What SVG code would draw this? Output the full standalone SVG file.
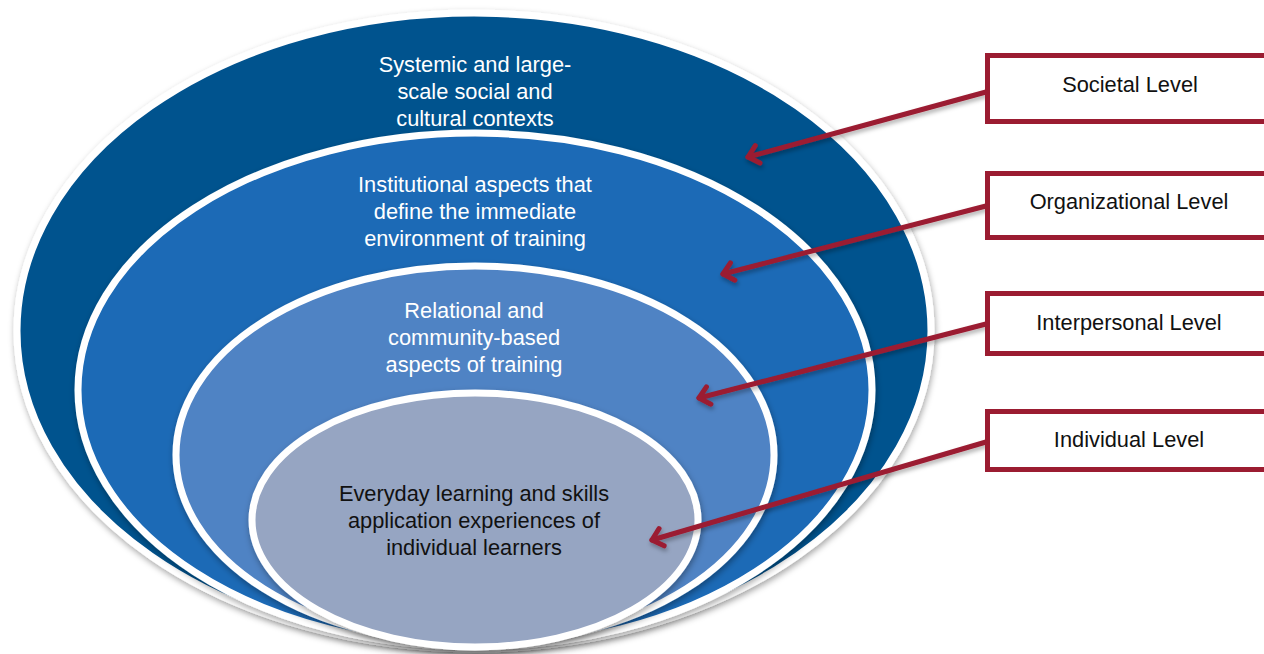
<svg xmlns="http://www.w3.org/2000/svg" width="1264" height="654" viewBox="0 0 1264 654">
  <defs>
    <filter id="shadow" x="-10%" y="-10%" width="120%" height="125%">
      <feDropShadow dx="1" dy="3" stdDeviation="3" flood-color="#000" flood-opacity="0.35"/>
    </filter>
    <filter id="arrowShadow" x="-10%" y="-30%" width="120%" height="160%">
      <feDropShadow dx="1" dy="3" stdDeviation="2" flood-color="#000" flood-opacity="0.3"/>
    </filter>
    <marker id="chevron" viewBox="-14 -12 18 24" markerWidth="18" markerHeight="24" refX="0" refY="0" orient="auto" markerUnits="userSpaceOnUse">
      <path d="M-10,-9 L0,0 L-10,9" fill="none" stroke="#9B1C31" stroke-width="5" stroke-linecap="round" stroke-linejoin="round"/>
    </marker>
    <style>
      .ring { stroke: #FFFFFF; stroke-width: 7; filter: url(#shadow); }
      .label { font-family: "Liberation Sans", Arial, sans-serif; font-size: 21.8px; text-anchor: middle; }
      .light { fill: #FFFFFF; }
      .dark { fill: #111111; }
      .box { fill: #FFFFFF; stroke: #9B1C31; stroke-width: 5; }
      .link { fill: none; stroke: #9B1C31; stroke-width: 5; stroke-linecap: round; marker-end: url(#chevron); }
    </style>
  </defs>

  <!-- nested level ellipses -->
  <g id="societal-ring">
    <ellipse class="ring" cx="474" cy="331" rx="457" ry="318" fill="#03528E"/>
    <text class="label light" x="475" y="72">Systemic and large-</text>
    <text class="label light" x="475" y="99">scale social and</text>
    <text class="label light" x="475" y="126">cultural contexts</text>
  </g>

  <g id="organizational-ring">
    <ellipse class="ring" cx="475" cy="390" rx="397" ry="257" fill="#1C6AB6"/>
    <text class="label light" x="475" y="192">Institutional aspects that</text>
    <text class="label light" x="475" y="219">define the immediate</text>
    <text class="label light" x="475" y="246">environment of training</text>
  </g>

  <g id="interpersonal-ring">
    <ellipse class="ring" cx="475" cy="455" rx="299" ry="189" fill="#5083C4"/>
    <text class="label light" x="474" y="318">Relational and</text>
    <text class="label light" x="474" y="345">community-based</text>
    <text class="label light" x="474" y="372">aspects of training</text>
  </g>

  <g id="individual-ring">
    <ellipse class="ring" cx="475" cy="520" rx="223" ry="127" fill="#96A5C2"/>
    <text class="label dark" x="474" y="501">Everyday learning and skills</text>
    <text class="label dark" x="474" y="528">application experiences of</text>
    <text class="label dark" x="474" y="555">individual learners</text>
  </g>

  <!-- pointers from level boxes into the rings -->
  <g id="connectors" filter="url(#arrowShadow)">
    <line class="link" x1="986" y1="92" x2="748" y2="157"/>
    <line class="link" x1="986" y1="206" x2="723" y2="274"/>
    <line class="link" x1="986" y1="324" x2="699" y2="398"/>
    <line class="link" x1="986" y1="442" x2="652" y2="540"/>
  </g>

  <!-- level boxes -->
  <g id="societal-level">
    <rect class="box" x="987.5" y="55.5" width="300" height="66"/>
    <text class="label dark" x="1130" y="92">Societal Level</text>
  </g>
  <g id="organizational-level">
    <rect class="box" x="987.5" y="173.5" width="300" height="64"/>
    <text class="label dark" x="1129" y="209">Organizational Level</text>
  </g>
  <g id="interpersonal-level">
    <rect class="box" x="987.5" y="293.5" width="300" height="60"/>
    <text class="label dark" x="1129" y="330">Interpersonal Level</text>
  </g>
  <g id="individual-level">
    <rect class="box" x="987.5" y="411.5" width="300" height="58"/>
    <text class="label dark" x="1129" y="447">Individual Level</text>
  </g>
</svg>
